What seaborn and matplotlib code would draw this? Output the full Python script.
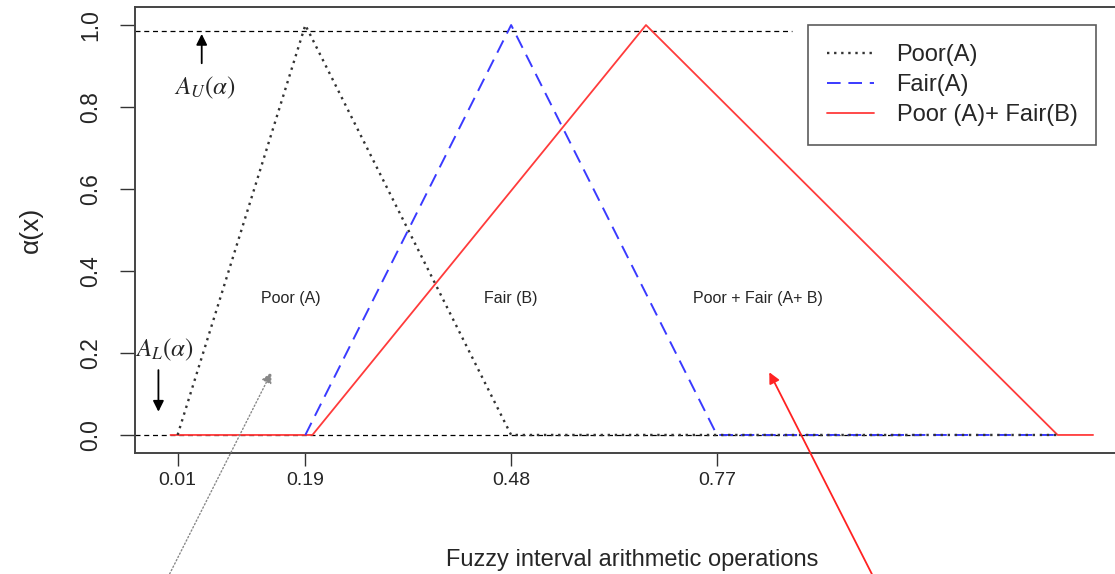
import numpy as np
import pandas as pd
import matplotlib
matplotlib.use("Agg")
import matplotlib.pyplot as plt
import seaborn as sns

# ============================================================
# DATA: triangular fuzzy numbers (x, alpha)
# ============================================================

poor_x = [0.01, 0.19, 0.48, 1.25]
poor_y = [0.0, 1.0, 0.0, 0.0]

fair_x = [0.19, 0.48, 0.77, 1.25]
fair_y = [0.0, 1.0, 0.0, 0.0]

sum_x = [0.0, 0.20, 0.67, 1.25, 1.30]
sum_y = [0.0, 0.0, 1.0, 0.0, 0.0]

x_ticks = [0.01, 0.19, 0.48, 0.77]
y_ticks = [0.0, 0.2, 0.4, 0.6, 0.8, 1.0]

legend_labels = ["Poor(A)", "Fair(A)", "Poor (A)+ Fair(B)"]
region_labels = ["Poor (A)", "Fair (B)", "Poor + Fair (A+ B)"]
region_x = [0.17, 0.479, 0.828]
region_y = [0.334, 0.334, 0.334]

upper_level = 0.985

# ============================================================
# PLOT
# ============================================================

sns.set_style("ticks")
plt.rcParams['font.family'] = ['Liberation Sans', 'DejaVu Sans']

fig = plt.figure(figsize=(11.15, 5.74), dpi=100)
# axes box runs past the right edge of the picture (cropped like the original)
ax = fig.add_axes([135 / 1115, 121 / 574, 995 / 1115, 446 / 574])

df_poor = pd.DataFrame({"x": poor_x, "alpha": poor_y})
df_fair = pd.DataFrame({"x": fair_x, "alpha": fair_y})
df_sum = pd.DataFrame({"x": sum_x, "alpha": sum_y})

# reference lines
ax.axhline(upper_level, xmin=0, xmax=0.66, color="black", ls=(0, (4, 3)), lw=0.9)
ax.axhline(0.0, xmin=0, xmax=0.79, color="black", ls=(0, (4, 3)), lw=0.9)

sns.lineplot(data=df_sum, x="x", y="alpha", ax=ax, color="#ff3b3b", lw=1.3,
             label=legend_labels[2], sort=False)
sns.lineplot(data=df_fair, x="x", y="alpha", ax=ax, color="#3a3aff", lw=1.4,
             linestyle=(0, (7, 4)), label=legend_labels[1], sort=False)
sns.lineplot(data=df_poor, x="x", y="alpha", ax=ax, color="#333333", lw=1.7,
             linestyle=(0, (1, 2.0)), label=legend_labels[0], sort=False)

ax.set_xlim(-0.05, 1.352)
ax.set_ylim(-0.044, 1.044)

ax.set_xticks(x_ticks)
ax.set_xticklabels([f"{v:.2f}" for v in x_ticks], fontsize=14)
ax.set_yticks(y_ticks)
ax.set_yticklabels([f"{v:.1f}" for v in y_ticks], fontsize=16.5, rotation=90, va="center")
ax.tick_params(axis="x", direction="out", length=9, width=1, pad=5, color="#333333")
ax.tick_params(axis="y", direction="out", length=10.5, width=1, pad=13, color="#333333")

for sp in ax.spines.values():
    sp.set_color("#444444")
    sp.set_linewidth(1.4)

ax.set_xlabel("Fuzzy interval arithmetic operations", fontsize=17, labelpad=43)
ax.set_ylabel("α(x)", fontsize=19, labelpad=26)

# region texts
for t, xx, yy in zip(region_labels, region_x, region_y):
    ax.text(xx, yy, t, ha="center", va="center", fontsize=11.5)

# A_U / A_L markers
ax.text(0.049, 0.846, r"$A_U(\alpha)$", ha="center", va="center", fontsize=18,
        math_fontfamily="stix")
ax.annotate("", xy=(0.044, upper_level), xytext=(0.044, 0.9),
            arrowprops=dict(arrowstyle="-|>", color="black", lw=1.3, mutation_scale=16))
ax.text(-0.008, 0.207, r"$A_L(\alpha)$", ha="center", va="center", fontsize=18,
        math_fontfamily="stix")
ax.annotate("", xy=(-0.017, 0.05), xytext=(-0.017, 0.165),
            arrowprops=dict(arrowstyle="-|>", color="black", lw=1.3, mutation_scale=16))

# pointer arrows from below the axis
ax.annotate("", xy=(0.144, 0.159), xytext=(-0.003, -0.345),
            arrowprops=dict(arrowstyle="-|>", color="#888888", lw=1.0, ls=":",
                            mutation_scale=16), annotation_clip=False)
ax.annotate("", xy=(0.842, 0.159), xytext=(0.99, -0.345),
            arrowprops=dict(arrowstyle="-|>", color="#ff2222", lw=1.3,
                            mutation_scale=16), annotation_clip=False)

# legend (ordered like the original)
handles, labels = ax.get_legend_handles_labels()
order = [labels.index(l) for l in legend_labels]
leg = ax.legend([handles[i] for i in order], [labels[i] for i in order],
                loc="upper left", bbox_to_anchor=(808 / 1115, 1 - 25 / 574),
                bbox_transform=fig.transFigure, borderaxespad=0,
                fontsize=17, frameon=True, fancybox=False, handlelength=2.0,
                labelspacing=0.34, borderpad=0.8, handletextpad=0.95)
leg.get_frame().set_edgecolor("#333333")
leg.get_frame().set_linewidth(1.2)

plt.savefig("out.png", dpi=100)
